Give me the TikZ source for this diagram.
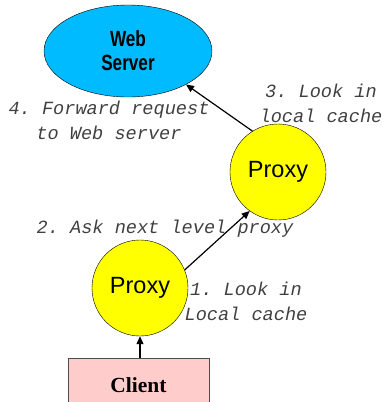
\documentclass[tikz,border=0pt]{standalone}
\usepackage{fontspec}
\setmainfont{Liberation Serif}
\setsansfont{Liberation Sans}
\setmonofont{Liberation Mono}
\newfontfamily\serverfont[FakeStretch=0.78]{Liberation Sans}
\usetikzlibrary{arrows.meta, shapes.geometric, positioning}

\definecolor{servercyan}{RGB}{0,187,255}
\definecolor{proxyyellow}{RGB}{255,255,0}
\definecolor{clientpink}{RGB}{255,204,204}

\tikzset{
  proxy/.style={circle, draw, fill=proxyyellow, minimum size=96pt, inner sep=0pt,
    font=\sffamily\fontsize{23.5}{26}\selectfont},
  steplabel/.style={align=center, inner sep=0pt, text=black!75,
    font=\ttfamily\itshape\fontsize{18.6}{25}\selectfont},
  link/.style={-{Triangle[length=8pt,width=7pt]}, line width=1.2pt}
}

\begin{document}
\begin{tikzpicture}[x=1pt, y=-1pt]
          \useasboundingbox (0,0) rectangle (383,402);
          \begin{scope}
          \clip (0,0) rectangle (383,402);

          \node[ellipse, draw, fill=servercyan, minimum width=168pt, minimum height=92pt,
            align=center, font=\serverfont\bfseries\fontsize{22}{24}\selectfont]
            (server) at (128,51) {Web\\Server};
          \node[proxy] (proxyup) at (278,172) {Proxy};
          \node[proxy] (proxylow) at (140,288) {Proxy};
          \node[draw=black!70, fill=clientpink, minimum width=141pt, minimum height=54pt,
            font=\bfseries\fontsize{21.5}{24}\selectfont]
            (client) at (138.5,385) {Client};

          \node[steplabel] (lookone) at (246,301) {1. Look in\\Local cache};
          \node[steplabel] (asknext) at (165,229) {2. Ask next level proxy};
          \node[steplabel] (lookthree) at (321,103) {3. Look in\\local cache};
          \node[steplabel] (forward) at (109,120) {4. Forward request\\to Web server};

          % Edges
          \draw[link] (client.north -| proxylow) -- (proxylow.south);
          \draw[link] (proxylow.22) -- (proxyup.234);
          \draw[link] (proxyup.122) -- (server.-30);
          \end{scope}
    \end{tikzpicture}
\end{document}
